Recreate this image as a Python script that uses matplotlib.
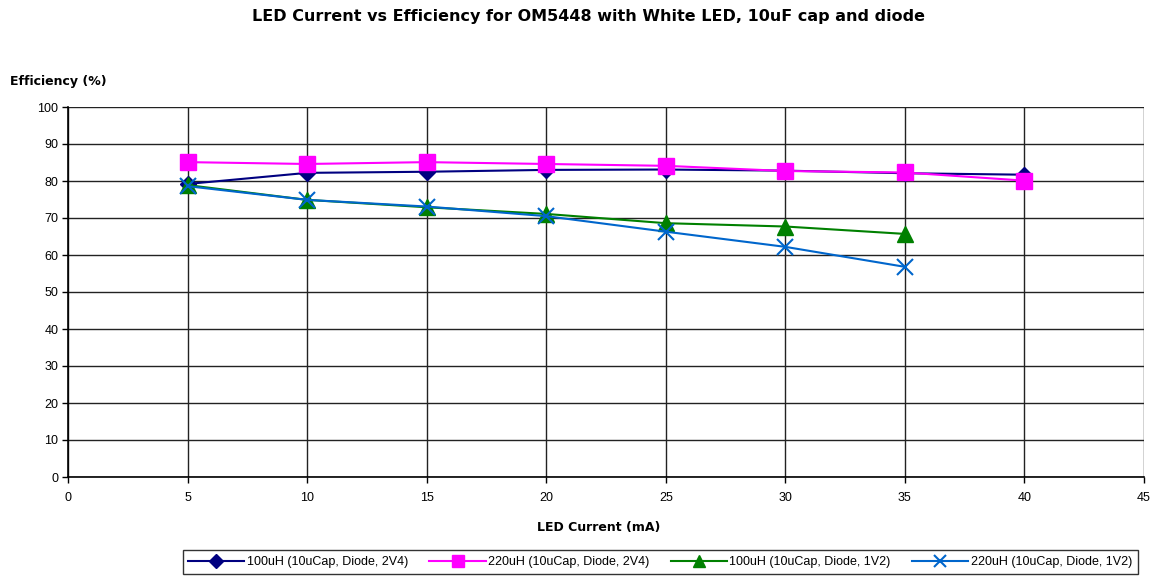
import matplotlib
matplotlib.use("Agg")
import matplotlib.pyplot as plt
from matplotlib.ticker import MultipleLocator

plt.rcParams['font.family'] = ['Liberation Sans', 'DejaVu Sans']

current = [5, 10, 15, 20, 25, 30, 35, 40]
eff_100uH_2V4 = [79.2, 82.2, 82.5, 83.0, 83.1, 82.8, 82.1, 81.7]
eff_220uH_2V4 = [85.1, 84.6, 85.1, 84.6, 84.1, 82.7, 82.3, 80.1]
current_1V2 = [5, 10, 15, 20, 25, 30, 35]
eff_100uH_1V2 = [78.9, 74.9, 72.9, 71.1, 68.6, 67.7, 65.7]
eff_220uH_1V2 = [78.6, 74.9, 73.1, 70.5, 66.3, 62.2, 56.8]
labels = ["100uH (10uCap, Diode, 2V4)", "220uH (10uCap, Diode, 2V4)",
          "100uH (10uCap, Diode, 1V2)", "220uH (10uCap, Diode, 1V2)"]

W, H = 1156, 576
fig = plt.figure(figsize=(W/100, H/100), dpi=100)
ax = fig.add_axes([68/W, 1-477/H, (1144-68)/W, (477-107)/H])

ax.plot(current, eff_100uH_2V4, color='#000080', marker='D', ms=8, lw=1.5, label=labels[0], zorder=3)
ax.plot(current, eff_220uH_2V4, color='#FF00FF', marker='s', ms=11, lw=1.5, label=labels[1], zorder=3)
ax.plot(current_1V2, eff_100uH_1V2, color='#008000', marker='^', ms=11, lw=1.5, label=labels[2], zorder=3)
ax.plot(current_1V2, eff_220uH_1V2, color='#0066CC', marker='x', ms=11, mew=1.5, lw=1.5, label=labels[3], zorder=3)

ax.set_xlim(0, 45)
ax.set_ylim(0, 100)
ax.xaxis.set_major_locator(MultipleLocator(5))
ax.yaxis.set_major_locator(MultipleLocator(10))
ax.grid(True, color='#222222', lw=1)
ax.set_axisbelow(True)
for s in ['top', 'right']:
    ax.spines[s].set_visible(False)
for s in ['left', 'bottom']:
    ax.spines[s].set_color('black')
    ax.spines[s].set_linewidth(1.2)
ax.tick_params(axis='both', labelsize=9, length=4, width=1, direction='out', colors='black', pad=3)
ax.tick_params(axis='x', pad=7)

bold = {'family': ['DejaVu Sans'], 'weight': 'bold'}
fig.text(588/W, 1-17/H, "LED Current vs Efficiency for OM5448 with White LED, 10uF cap and diode",
         ha='center', va='center', fontsize=11.5, **bold)
fig.text(10/W, 1-82/H, "Efficiency (%)", ha='left', va='center', fontsize=9, **bold)
fig.text(599/W, 1-527/H, "LED Current (mA)", ha='center', va='center', fontsize=9, **bold)

leg = fig.legend(loc='center', bbox_to_anchor=(660/W, 1-562/H), ncol=4, frameon=True,
                 fancybox=False, edgecolor='black', handlelength=4.5, markerscale=0.85,
                 columnspacing=1.7, handletextpad=0.2, borderpad=0.45,
                 prop={'family': ['Liberation Sans', 'DejaVu Sans'], 'size': 9})
leg.get_frame().set_linewidth(1)

fig.savefig("out.png", dpi=100)
